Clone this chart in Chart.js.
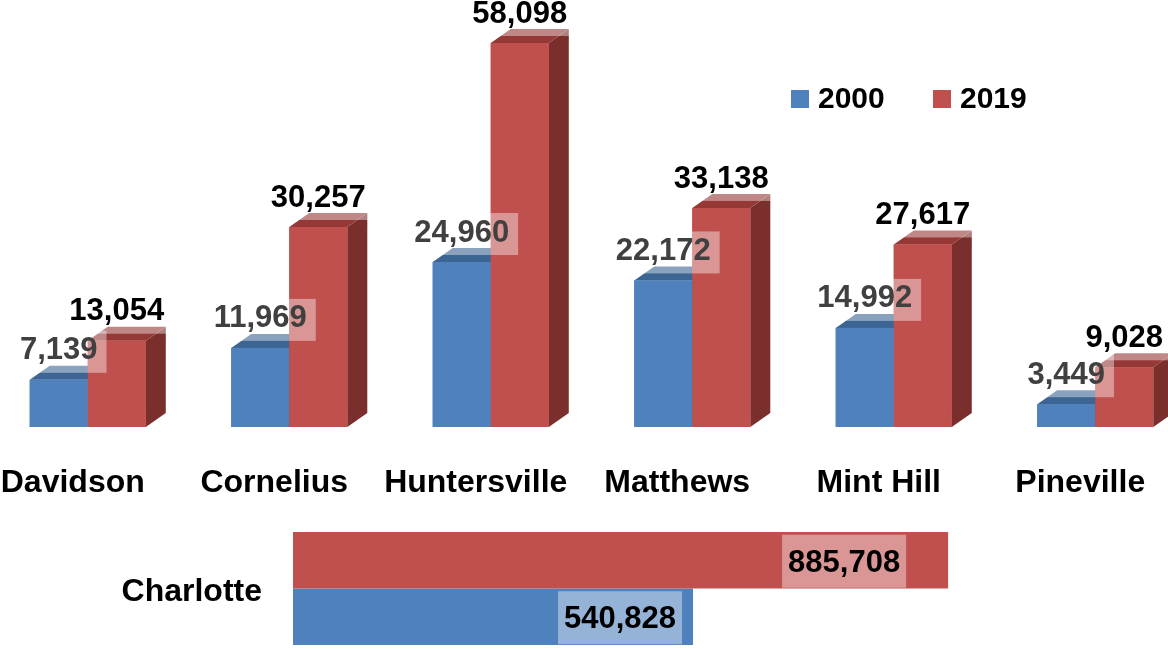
<!DOCTYPE html>
<html lang="en">
<head>
    <meta charset="UTF-8">
    <title>Population 2000 vs 2019</title>
    <script src="https://cdn.jsdelivr.net/npm/chart.js"></script>
    <style>
        html, body { margin: 0; padding: 0; background: #fff; overflow: hidden; }
        body { width: 1168px; height: 649px; position: relative; }
        #towns-chart { position: absolute; left: -13px; top: 0; }
        #city-chart { position: absolute; left: 0; top: 520px; }
    </style>
</head>
<body>
    <canvas id="towns-chart" width="1240" height="520"></canvas>
    <canvas id="city-chart" width="1168" height="129"></canvas>

    <script>
        // Data
        const towns = ['Davidson', 'Cornelius', 'Huntersville', 'Matthews', 'Mint Hill', 'Pineville'];
        const pop2000 = [7139, 11969, 24960, 22172, 14992, 3449];
        const pop2019 = [13054, 30257, 58098, 33138, 27617, 9028];
        const city = ['Charlotte'];
        const city2000 = [540828];
        const city2019 = [885708];
        const seriesLabels = ['2000', '2019'];

        const BLUE = '#4f81bd', RED = '#c0504d';
        const FONT = '"Liberation Sans", Arial, sans-serif';

        function fmt(v) { return v.toLocaleString('en-US'); }

        function labelBox(ctx, text, cx, cy, padX, h, boxDy, color) {
            ctx.font = 'bold 31px ' + FONT;
            const w = ctx.measureText(text).width + padX * 2;
            ctx.fillStyle = 'rgba(255,255,255,0.4)';
            ctx.fillRect(cx - w / 2, cy + boxDy - h / 2, w, h);
            ctx.fillStyle = color;
            ctx.textAlign = 'center';
            ctx.textBaseline = 'middle';
            ctx.fillText(text, cx, cy);
        }

        // fake 3D columns: side + top faces, then labels
        const columns3d = {
            id: 'columns3d',
            afterDatasetsDraw(chart) {
                const ctx = chart.ctx;
                const dx = 20, dy = 14;
                const shades = [
                    { front: BLUE, top: '#3c6593', side: '#2f527c' },
                    { front: RED, top: '#953836', side: '#7b2f2d' }
                ];
                ctx.save();
                towns.forEach((t, i) => {
                    chart.data.datasets.forEach((ds, d) => {
                        const el = chart.getDatasetMeta(d).data[i];
                        const { x, y, base, width } = el.getProps(['x', 'y', 'base', 'width'], true);
                        const l = x - width / 2, r = x + width / 2;
                        ctx.fillStyle = shades[d].side;
                        ctx.beginPath();
                        ctx.moveTo(r, y); ctx.lineTo(r + dx, y - dy);
                        ctx.lineTo(r + dx, base - dy); ctx.lineTo(r, base);
                        ctx.closePath(); ctx.fill();
                        ctx.fillStyle = shades[d].top;
                        ctx.beginPath();
                        ctx.moveTo(l, y); ctx.lineTo(l + dx, y - dy);
                        ctx.lineTo(r + dx, y - dy); ctx.lineTo(r, y);
                        ctx.closePath(); ctx.fill();
                        ctx.fillStyle = shades[d].front;
                        ctx.fillRect(l, y, width, base - y);
                    });
                });
                const colors = ['#404040', '#000000'];
                towns.forEach((t, i) => {
                    chart.data.datasets.forEach((ds, d) => {
                        const el = chart.getDatasetMeta(d).data[i];
                        labelBox(ctx, fmt(ds.data[i]), el.x, el.y - 29, 9, 42, 1, colors[d]);
                    });
                });
                // legend
                ctx.font = 'bold 30px ' + FONT;
                ctx.textAlign = 'left';
                ctx.textBaseline = 'middle';
                const lx = [804, 946];
                chart.data.datasets.forEach((ds, d) => {
                    ctx.fillStyle = ds.backgroundColor;
                    ctx.fillRect(lx[d], 90, 18, 18);
                    ctx.fillStyle = '#000';
                    ctx.fillText(ds.label, lx[d] + 27, 100);
                });
                ctx.restore();
            }
        };

        new Chart(document.getElementById('towns-chart'), {
            type: 'bar',
            data: {
                labels: towns,
                datasets: [
                    { label: seriesLabels[0], data: pop2000, backgroundColor: BLUE },
                    { label: seriesLabels[1], data: pop2019, backgroundColor: RED }
                ]
            },
            options: {
                responsive: false,
                animation: false,
                categoryPercentage: 0.576,
                barPercentage: 1,
                layout: { padding: { left: 0, right: 31, top: 0, bottom: 0 } },
                plugins: { legend: { display: false }, tooltip: { enabled: false } },
                scales: {
                    x: {
                        grid: { display: false, drawTicks: false },
                        border: { display: false },
                        ticks: {
                            color: '#000',
                            font: { family: FONT, size: 32, weight: 'bold' },
                            padding: 37,
                            labelOffset: -15
                        },
                        afterFit(scale) {
                            scale.height = 93;
                            scale.paddingLeft = 0;
                            scale.paddingRight = 0;
                        }
                    },
                    y: { display: false, min: 0, max: 64600 }
                }
            },
            plugins: [columns3d]
        });

        // Charlotte horizontal bars
        const cityLabels = {
            id: 'cityLabels',
            afterDatasetsDraw(chart) {
                const ctx = chart.ctx;
                const inset = [104, 73];
                ctx.save();
                chart.data.datasets.forEach((ds, d) => {
                    chart.getDatasetMeta(d).data.forEach((el, i) => {
                        labelBox(ctx, fmt(ds.data[i]), el.x - inset[d], el.y + 3, 6, 53, -2, '#000');
                    });
                });
                ctx.restore();
            }
        };

        new Chart(document.getElementById('city-chart'), {
            type: 'bar',
            data: {
                labels: city,
                datasets: [
                    { label: seriesLabels[1], data: city2019, backgroundColor: RED },
                    { label: seriesLabels[0], data: city2000, backgroundColor: BLUE }
                ]
            },
            options: {
                indexAxis: 'y',
                responsive: false,
                animation: false,
                categoryPercentage: 0.934,
                barPercentage: 1,
                layout: { padding: { left: 0, right: 0, top: 8, bottom: 0 } },
                plugins: { legend: { display: false }, tooltip: { enabled: false } },
                scales: {
                    x: { display: false, min: 0, max: 1183000 },
                    y: {
                        grid: { display: false, drawTicks: false },
                        border: { display: false },
                        ticks: {
                            color: '#000',
                            font: { family: FONT, size: 32, weight: 'bold' },
                            padding: 31,
                            labelOffset: 4
                        },
                        afterFit(scale) {
                            scale.width = 293;
                            scale.paddingTop = 0;
                            scale.paddingBottom = 0;
                        }
                    }
                }
            },
            plugins: [cityLabels]
        });
    </script>
</body>
</html>
